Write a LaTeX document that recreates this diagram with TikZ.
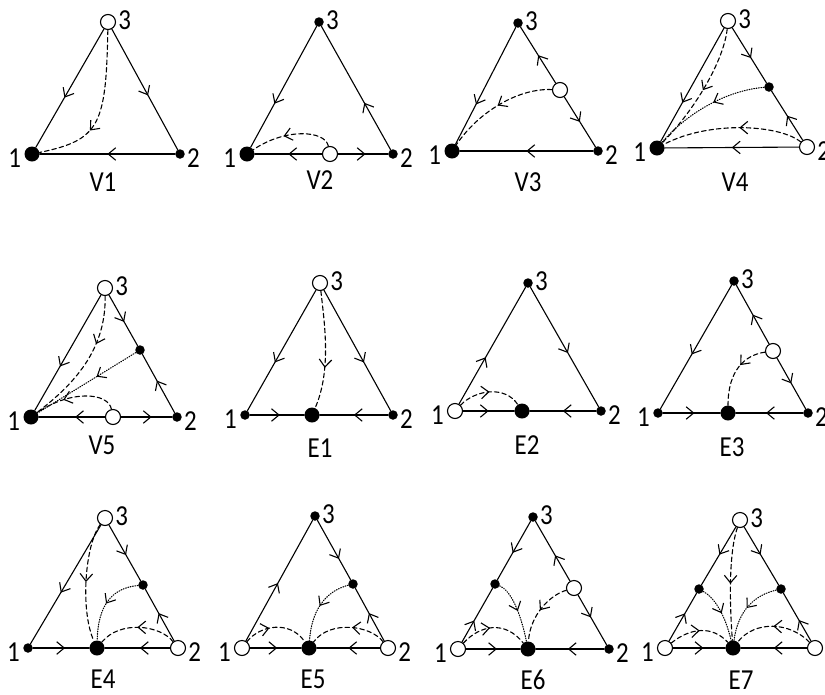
\documentclass[tikz,border=0pt]{standalone}
\usepackage{fontspec}
\setmainfont{Carlito}
\usetikzlibrary{arrows.meta,decorations.markings,calc}
\tikzset{
  ln/.style={line width=1.1pt, line cap=round},
  solidln/.style={ln},
  dashln/.style={ln, dash pattern=on 4.5pt off 3pt},
  dotln/.style={ln, dash pattern=on 0.8pt off 1.6pt},
  ma/.style={postaction={decorate}, decoration={markings, mark=at position #1 with {\arrow{Straight Barb[length=7.5pt,width=12.5pt,line width=1.1pt]}}}},
  ma/.default=0.5,
  bigpt/.style={circle, fill=black, inner sep=0pt, minimum size=15pt},
  smallpt/.style={circle, fill=black, inner sep=0pt, minimum size=9.5pt},
  openpt/.style={circle, draw=black, fill=white, line width=1.1pt, inner sep=0pt, minimum size=15pt},
  lab/.style={inner sep=0pt, font=\fontsize{29}{31}\selectfont},
}
\newcommand\sq[1]{\scalebox{0.86}[1]{#1}}
\newcommand\vlabs[1]{%
  \node[lab, anchor=east] (#1t1) at ($(#11.west)+(-3,4)$) {\sq{1}};
  \node[lab, anchor=west] (#1t2) at ($(#12.east)+(2,4)$) {\sq{2}};
  \node[lab, anchor=west] (#1t3) at ($(#13.east)+(2,-2)$) {\sq{3}};}
\begin{document}
\begin{tikzpicture}[x=1pt,y=-1pt]
\useasboundingbox (0,0) rectangle (825,694);
% V1
\node[bigpt] (a1) at (32,154) {};
\node[smallpt] (a2) at (180,154) {};
\node[openpt] (a3) at (108,22) {};
\draw[solidln, ma=0.58] (a3) -- (a1);
\draw[solidln, ma=0.55] (a3) -- (a2);
\draw[solidln, ma=0.5] (a2) -- (a1);
\draw[dashln, ma=0.65] (a3) .. controls (106,125) and (100,140) .. (a1);
\node[lab] (an) at (103,182) {\sq{V1}};
\vlabs{a}
% V2
\node[bigpt] (b1) at (247,154) {};
\node[smallpt] (b2) at (393,154) {};
\node[smallpt] (b3) at (319,22) {};
\node[openpt] (bo) at (330,154) {};
\draw[solidln, ma=0.64] (b3) -- (b1);
\draw[solidln, ma=0.38] (b2) -- (b3);
\draw[solidln, ma=0.5] (bo) -- (b1);
\draw[solidln, ma=0.55] (bo) -- (b2);
\draw[dashln, ma=0.6] (bo) .. controls (325,130) and (285,128) .. (b1);
\node[lab] (bn) at (320,180) {\sq{V2}};
\vlabs{b}
% V3
\node[bigpt] (c1) at (452,151) {};
\node[smallpt] (c2) at (598,151) {};
\node[smallpt] (c3) at (518,23) {};
\node[openpt] (co) at (560,90) {};
\draw[solidln, ma=0.66] (c3) -- (c1);
\draw[solidln, ma=0.5] (co) -- (c3);
\draw[solidln, ma=0.5] (co) -- (c2);
\draw[solidln, ma=0.5] (c2) -- (c1);
\draw[dashln, ma=0.5] (co) .. controls (520,88) and (480,110) .. (c1);
\node[lab] (cn) at (528,182) {\sq{V3}};
\vlabs{c}
% V4
\node[bigpt] (d1) at (657,148) {};
\node[openpt] (d2) at (807,147) {};
\node[openpt] (d3) at (728,21) {};
\node[smallpt] (dm) at (769,87) {};
\draw[solidln, ma=0.66] (d3) -- (d1);
\draw[solidln, ma=0.55] (d3) -- (dm);
\draw[solidln, ma=0.5] (d2) -- (dm);
\draw[solidln, ma=0.5] (d2) -- (d1);
\draw[dashln, ma=0.5] (d3) .. controls (724,60) and (695,110) .. (d1);
\draw[dotln, ma=0.45] (dm) .. controls (730,90) and (690,110) .. (d1);
\draw[dashln, ma=0.45] (d2) .. controls (780,125) and (710,120) .. (d1);
\node[lab] (dn) at (735,182) {\sq{V4}};
\vlabs{d}
% V5
\node[bigpt] (e1) at (31,417) {};
\node[smallpt] (e2) at (177,417) {};
\node[openpt] (e3) at (105,288) {};
\node[smallpt] (em) at (140,350) {};
\node[openpt] (eo) at (113,417) {};
\draw[solidln, ma=0.62] (e3) -- (e1);
\draw[solidln, ma=0.53] (e3) -- (em);
\draw[solidln, ma=0.55] (e2) -- (em);
\draw[solidln, ma=0.45] (eo) -- (e1);
\draw[solidln, ma=0.6] (eo) -- (e2);
\draw[dashln, ma=0.35] (e3) .. controls (106,345) and (80,380) .. (e1);
\draw[dotln, ma=0.4] (em) -- (e1);
\draw[dashln, ma=0.65] (eo) .. controls (108,392) and (70,390) .. (e1);
\node[lab] (en) at (102,445) {\sq{V5}};
\vlabs{e}
% E1
\node[smallpt] (f1) at (245,415) {};
\node[smallpt] (f2) at (393,415) {};
\node[openpt] (f3) at (320,283) {};
\node[bigpt] (fb) at (312,415) {};
\draw[solidln, ma=0.6] (f3) -- (f1);
\draw[solidln, ma=0.6] (f3) -- (f2);
\draw[solidln, ma=0.55] (f1) -- (fb);
\draw[solidln, ma=0.5] (f2) -- (fb);
\draw[dashln, ma=0.65] (f3) .. controls (324,320) and (332,370) .. (fb);
\node[lab] (fn) at (320,448) {\sq{E1}};
\vlabs{f}
% E2
\node[openpt] (g1) at (455,411) {};
\node[smallpt] (g2) at (601,411) {};
\node[smallpt] (g3) at (528,283) {};
\node[bigpt] (gb) at (522,411) {};
\draw[solidln, ma=0.4] (g1) -- (g3);
\draw[solidln, ma=0.55] (g3) -- (g2);
\draw[solidln, ma=0.5] (g1) -- (gb);
\draw[solidln, ma=0.5] (g2) -- (gb);
\draw[dashln, ma=0.5] (g1) .. controls (475,390) and (505,385) .. (gb);
\node[lab] (gn) at (527,445) {\sq{E2}};
\vlabs{g}
% E3
\node[smallpt] (h1) at (658,413) {};
\node[smallpt] (h2) at (808,413) {};
\node[smallpt] (h3) at (734,281) {};
\node[openpt] (ho) at (773,351) {};
\node[bigpt] (hb) at (728,413) {};
\draw[solidln, ma=0.56] (h3) -- (h1);
\draw[solidln, ma=0.5] (ho) -- (h3);
\draw[solidln, ma=0.5] (ho) -- (h2);
\draw[solidln, ma=0.55] (h1) -- (hb);
\draw[solidln, ma=0.55] (h2) -- (hb);
\draw[dashln, ma=0.4] (ho) .. controls (745,355) and (728,370) .. (hb);
\node[lab] (hn) at (732,447) {\sq{E3}};
\vlabs{h}
% E4
\node[smallpt] (i1) at (28,648) {};
\node[openpt] (i2) at (178,648) {};
\node[openpt] (i3) at (105,518) {};
\node[smallpt] (im) at (143,585) {};
\node[bigpt] (ib) at (97,648) {};
\draw[solidln, ma=0.57] (i3) -- (i1);
\draw[solidln, ma=0.54] (i3) -- (im);
\draw[solidln, ma=0.54] (i2) -- (im);
\draw[solidln, ma=0.57] (i1) -- (ib);
\draw[solidln, ma=0.46] (i2) -- (ib);
\draw[dashln, ma=0.5] (i3) .. controls (85,545) and (80,610) .. (ib);
\draw[dotln, ma=0.5] (im) .. controls (112,588) and (98,605) .. (ib);
\draw[dashln, ma=0.5] (i2) .. controls (160,625) and (120,620) .. (ib);
\node[lab] (in) at (103,679) {\sq{E4}};
\vlabs{i}
% E5
\node[openpt] (j1) at (242,648) {};
\node[openpt] (j2) at (388,648) {};
\node[smallpt] (j3) at (315,516) {};
\node[smallpt] (jm) at (353,584) {};
\node[bigpt] (jb) at (309,648) {};
\draw[solidln, ma=0.48] (j1) -- (j3);
\draw[solidln, ma=0.65] (j3) -- (jm);
\draw[solidln, ma=0.53] (j2) -- (jm);
\draw[solidln, ma=0.53] (j1) -- (jb);
\draw[solidln, ma=0.5] (j2) -- (jb);
\draw[dotln, ma=0.5] (jm) .. controls (330,590) and (312,605) .. (jb);
\draw[dashln, ma=0.4] (j1) .. controls (260,625) and (290,620) .. (jb);
\draw[dashln, ma=0.45] (j2) .. controls (370,625) and (330,620) .. (jb);
\node[lab] (jn) at (313,679) {\sq{E5}};
\vlabs{j}
% E6
\node[openpt] (k1) at (458,649) {};
\node[smallpt] (k2) at (609,649) {};
\node[smallpt] (k3) at (533,517) {};
\node[smallpt] (kl) at (495,584) {};
\node[openpt] (kr) at (574,588) {};
\node[bigpt] (kb) at (528,649) {};
\draw[solidln, ma=0.54] (k3) -- (kl);
\draw[solidln, ma=0.4] (k1) -- (kl);
\draw[solidln, ma=0.43] (kr) -- (k3);
\draw[solidln, ma=0.45] (kr) -- (k2);
\draw[solidln, ma=0.57] (k1) -- (kb);
\draw[solidln, ma=0.53] (k2) -- (kb);
\draw[dotln, ma=0.5] (kl) .. controls (510,590) and (520,610) .. (kb);
\draw[dashln, ma=0.5] (kr) .. controls (550,595) and (530,615) .. (kb);
\draw[dashln, ma=0.45] (k1) .. controls (480,625) and (505,620) .. (kb);
\node[lab] (kn) at (533,680) {\sq{E6}};
\vlabs{k}
% E7
\node[openpt] (l1) at (665,648) {};
\node[openpt] (l2) at (815,648) {};
\node[openpt] (l3) at (740,520) {};
\node[smallpt] (ll) at (699,589) {};
\node[smallpt] (lr) at (781,589) {};
\node[bigpt] (lb) at (733,648) {};
\draw[solidln, ma=0.48] (l3) -- (ll);
\draw[solidln, ma=0.58] (l1) -- (ll);
\draw[solidln, ma=0.48] (l3) -- (lr);
\draw[solidln, ma=0.44] (l2) -- (lr);
\draw[solidln, ma=0.58] (l1) -- (lb);
\draw[solidln, ma=0.5] (l2) -- (lb);
\draw[dashln, ma=0.5] (l3) .. controls (728,555) and (730,610) .. (lb);
\draw[dotln, ma=0.5] (ll) .. controls (715,598) and (725,615) .. (lb);
\draw[dotln, ma=0.5] (lr) .. controls (755,595) and (738,610) .. (lb);
\draw[dashln, ma=0.5] (l1) .. controls (690,628) and (712,625) .. (lb);
\draw[dashln, ma=0.5] (l2) .. controls (790,622) and (755,620) .. (lb);
\node[lab] (ln) at (741,680) {\sq{E7}};
\vlabs{l}
\end{tikzpicture}
\end{document}
